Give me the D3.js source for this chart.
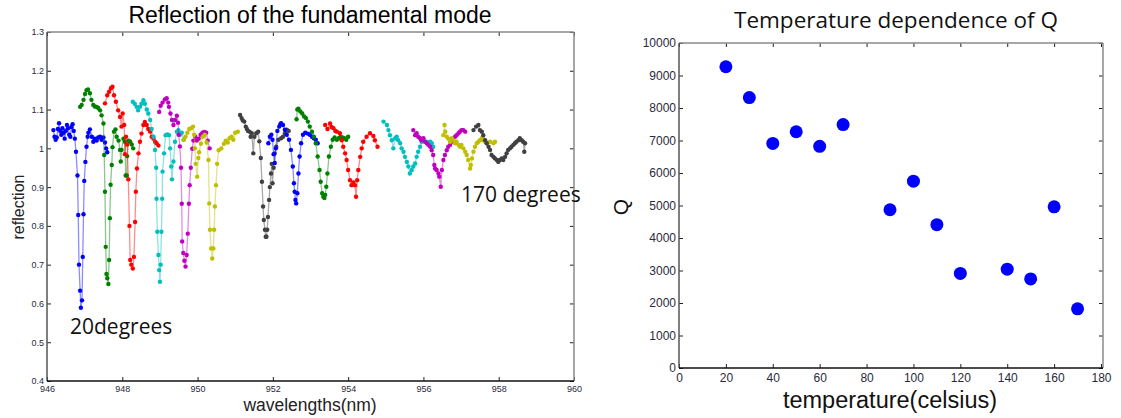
<!DOCTYPE html>
<html>
<head>
<meta charset="utf-8">
<script src="https://cdn.jsdelivr.net/npm/d3@7"></script>
<style>
  body { margin: 0; background: #fff; }
  svg { display: block; }
  .tick text { font-family: Arial, "Liberation Sans", sans-serif; fill: #2a2a3a; }
  .domain { display: none; }
</style>
</head>
<body>
<svg id="chart" width="1121" height="418"></svg>
<script>
// ---- data: left panel, reflection spectra (wavelength nm, reflection) ----
var spec20 = [[946.17,1.047],[946.20,1.030],[946.23,1.022],[946.26,1.028],[946.29,1.050],[946.32,1.065],[946.35,1.045],[946.38,1.035],[946.41,1.052],[946.44,1.040],[946.47,1.025],[946.50,1.045],[946.53,1.060],[946.56,1.052],[946.59,1.035],[946.62,1.030],[946.65,1.055],[946.68,1.062],[946.71,1.045],[946.74,1.025],[946.77,0.991],[946.81,0.930],[946.83,0.828],[946.85,0.700],[946.88,0.633],[946.90,0.589],[946.93,0.608],[946.95,0.720],[946.97,0.830],[946.99,0.916],[947.02,0.965],[947.05,1.004],[947.08,1.030],[947.10,1.040],[947.14,1.049],[947.19,1.030],[947.23,1.017],[947.27,1.025],[947.32,1.020],[947.36,1.028],[947.41,1.030],[947.45,1.022],[947.50,1.028],[947.54,1.015],[947.57,1.000],[947.60,0.990]];
var spec30 = [[946.88,1.107],[946.92,1.112],[946.97,1.125],[947.01,1.140],[947.05,1.150],[947.09,1.152],[947.14,1.142],[947.18,1.125],[947.23,1.112],[947.27,1.108],[947.32,1.107],[947.36,1.104],[947.41,1.098],[947.45,1.085],[947.50,1.064],[947.52,0.983],[947.54,0.888],[947.56,0.746],[947.58,0.676],[947.60,0.665],[947.63,0.650],[947.65,0.712],[947.67,0.820],[947.69,0.906],[947.72,0.957],[947.74,1.003],[947.78,1.043],[947.82,1.049],[947.85,1.030],[947.90,1.020],[947.94,0.996],[947.96,0.966],[947.98,0.996],[948.03,1.025],[948.07,1.017],[948.09,0.930],[948.12,0.930],[948.13,0.980],[948.17,1.020],[948.21,1.017],[948.25,1.010],[948.29,1.000]];
var spec40 = [[947.54,1.116],[947.60,1.137],[947.65,1.146],[947.70,1.155],[947.74,1.159],[947.78,1.137],[947.83,1.120],[947.89,1.098],[947.94,1.081],[947.98,1.056],[948.01,1.090],[948.05,1.060],[948.07,0.985],[948.10,1.030],[948.13,1.010],[948.16,0.920],[948.19,0.800],[948.21,0.712],[948.24,0.700],[948.28,0.690],[948.31,0.720],[948.34,0.810],[948.36,0.888],[948.39,0.948],[948.43,0.987],[948.47,1.017],[948.51,1.038],[948.56,1.060],[948.60,1.068],[948.65,1.060],[948.69,1.050],[948.74,1.043],[948.78,1.030],[948.83,1.025],[948.87,1.017],[948.91,1.013],[948.96,1.007]];
var spec50 = [[948.28,1.120],[948.33,1.115],[948.38,1.107],[948.42,1.098],[948.47,1.107],[948.51,1.115],[948.56,1.124],[948.60,1.115],[948.65,1.100],[948.69,1.090],[948.74,1.073],[948.78,1.050],[948.83,1.030],[948.87,0.996],[948.90,0.950],[948.91,0.870],[948.93,0.785],[948.96,0.725],[948.98,0.686],[949.00,0.656],[949.02,0.700],[949.04,0.785],[949.06,0.870],[949.07,0.940],[949.11,0.987],[949.15,1.034],[949.20,1.036],[949.24,1.034],[949.27,1.000],[949.30,0.953],[949.32,0.920],[949.36,0.966],[949.40,1.017],[949.45,1.043],[949.49,1.047],[949.53,1.035],[949.58,1.040],[949.63,1.022]];
var spec60 = [[948.98,1.094],[949.02,1.110],[949.07,1.118],[949.13,1.126],[949.18,1.129],[949.22,1.118],[949.24,1.107],[949.28,1.090],[949.32,1.073],[949.36,1.060],[949.40,1.073],[949.45,1.084],[949.48,1.066],[949.50,1.035],[949.53,1.005],[949.56,0.950],[949.58,0.857],[949.59,0.760],[949.62,0.730],[949.65,0.710],[949.68,0.695],[949.71,0.725],[949.74,0.780],[949.77,0.857],[949.79,0.905],[949.82,0.950],[949.86,0.999],[949.89,1.020],[949.94,1.030],[949.98,1.020],[950.03,1.025],[950.08,1.035],[950.13,1.040],[950.18,1.042],[950.23,1.040],[950.27,1.020],[950.32,1.000]];
var spec70 = [[949.63,1.022],[949.68,1.030],[949.73,1.040],[949.78,1.050],[949.83,1.052],[949.88,1.056],[949.91,1.035],[949.93,1.000],[949.95,0.960],[949.99,0.927],[950.02,0.975],[950.04,0.990],[950.09,1.012],[950.14,1.030],[950.19,1.035],[950.24,1.015],[950.29,0.970],[950.31,0.858],[950.33,0.790],[950.36,0.742],[950.39,0.716],[950.42,0.742],[950.44,0.790],[950.46,0.850],[950.49,0.905],[950.52,0.960],[950.56,0.995],[950.63,1.000],[950.70,1.012],[950.75,1.020],[950.80,1.015],[950.85,1.026],[950.90,1.030],[950.95,1.022],[951.00,1.040],[951.07,1.043]];
var spec90 = [[951.13,1.086],[951.17,1.078],[951.20,1.072],[951.24,1.069],[951.28,1.056],[951.31,1.050],[951.34,1.045],[951.38,1.043],[951.41,1.030],[951.44,1.039],[951.48,0.987],[951.51,1.030],[951.56,1.039],[951.61,1.043],[951.64,1.018],[951.68,0.975],[951.71,0.914],[951.74,0.850],[951.76,0.815],[951.79,0.790],[951.81,0.772],[951.83,0.772],[951.85,0.790],[951.87,0.823],[951.90,0.867],[951.92,0.900],[951.95,0.935],[951.97,0.960],[951.99,0.910],[952.02,0.950],[952.05,0.987],[952.09,1.004],[952.15,1.022],[952.22,1.026],[952.27,1.030],[952.32,1.039],[952.37,1.048],[952.42,1.045]];
var spec100 = [[951.88,1.013],[951.92,1.030],[951.96,1.035],[951.99,1.022],[952.02,0.985],[952.05,0.962],[952.08,1.000],[952.12,1.045],[952.17,1.056],[952.20,1.062],[952.22,1.065],[952.27,1.060],[952.32,1.048],[952.37,1.035],[952.43,1.022],[952.48,0.996],[952.53,0.953],[952.56,0.910],[952.58,0.888],[952.60,0.867],[952.62,0.858],[952.65,0.884],[952.68,0.935],[952.71,0.979],[952.75,1.013],[952.80,1.035],[952.86,1.040],[952.93,1.038],[952.98,1.035],[953.04,1.030],[953.09,1.026],[953.14,1.022],[953.19,1.013]];
var spec110 = [[952.63,1.075],[952.65,1.100],[952.68,1.102],[952.73,1.095],[952.78,1.090],[952.83,1.082],[952.88,1.078],[952.93,1.069],[952.98,1.056],[953.04,1.043],[953.09,1.030],[953.14,1.013],[953.19,0.979],[953.24,0.944],[953.27,0.914],[953.31,0.884],[953.34,0.875],[953.37,0.872],[953.39,0.880],[953.42,0.901],[953.45,0.935],[953.49,0.979],[953.54,1.004],[953.59,1.022],[953.64,1.028],[953.70,1.022],[953.75,1.026],[953.80,1.030],[953.85,1.028],[953.90,1.026],[953.95,1.022],[954.00,1.030]];
var spec120 = [[953.39,1.060],[953.45,1.050],[953.52,1.064],[953.56,1.055],[953.61,1.052],[953.66,1.045],[953.70,1.043],[953.78,1.039],[953.83,1.021],[953.87,1.004],[953.92,0.987],[953.96,0.970],[954.00,0.944],[954.05,0.918],[954.09,0.905],[954.14,0.912],[954.18,0.905],[954.21,0.875],[954.24,0.918],[954.27,0.944],[954.32,0.978],[954.36,1.000],[954.40,1.017],[954.49,1.030],[954.58,1.039],[954.67,1.032],[954.71,1.021],[954.78,1.004]];
var spec140 = [[954.94,1.069],[955.03,1.060],[955.07,1.047],[955.11,1.034],[955.16,1.021],[955.20,1.000],[955.25,1.026],[955.29,1.030],[955.33,1.021],[955.38,1.013],[955.42,1.000],[955.47,0.991],[955.51,0.978],[955.56,0.965],[955.60,0.953],[955.64,0.935],[955.69,0.944],[955.73,0.953],[955.78,0.961],[955.82,0.978],[955.86,0.991],[955.91,1.004],[955.95,1.017],[956.00,1.021],[956.09,1.017],[956.18,1.017],[956.22,1.013],[956.26,1.004]];
var spec150 = [[955.73,1.047],[955.78,1.034],[955.82,1.039],[955.86,1.030],[955.91,1.026],[955.95,1.021],[956.00,1.026],[956.04,1.017],[956.09,1.013],[956.13,1.009],[956.18,1.004],[956.22,0.995],[956.26,0.983],[956.29,0.957],[956.31,0.948],[956.35,0.944],[956.40,0.935],[956.42,0.927],[956.46,0.901],[956.49,0.944],[956.53,0.970],[956.57,0.983],[956.62,0.995],[956.66,1.004],[956.71,1.009],[956.75,1.017],[956.79,1.021],[956.84,1.030],[956.88,1.034],[956.93,1.039],[956.97,1.043],[957.01,1.047],[957.06,1.047],[957.11,1.043]];
var spec160 = [[956.53,1.034],[956.56,1.060],[956.58,1.043],[956.62,1.030],[956.66,1.025],[956.71,1.017],[956.75,1.026],[956.79,1.021],[956.84,1.013],[956.88,1.017],[956.93,1.009],[956.97,1.004],[957.01,1.009],[957.06,1.000],[957.11,0.991],[957.15,0.983],[957.19,0.970],[957.24,0.948],[957.26,0.957],[957.29,0.974],[957.33,0.991],[957.37,1.004],[957.42,1.013],[957.46,1.017],[957.50,1.021],[957.55,1.026],[957.59,1.021],[957.64,1.017],[957.68,1.013],[957.77,1.017],[957.86,1.013],[957.90,1.017]];
var spec170 = [[957.33,1.047],[957.40,1.056],[957.46,1.060],[957.50,1.047],[957.55,1.043],[957.59,1.034],[957.64,1.021],[957.68,1.013],[957.73,1.004],[957.77,0.996],[957.81,0.983],[957.86,0.978],[957.90,0.974],[957.95,0.970],[957.99,0.965],[958.03,0.970],[958.08,0.974],[958.12,0.970],[958.17,0.978],[958.21,0.987],[958.25,0.996],[958.30,1.000],[958.34,1.004],[958.39,1.009],[958.43,1.013],[958.47,1.017],[958.52,1.021],[958.56,1.026],[958.61,1.021],[958.65,1.017],[958.68,0.991],[958.70,1.013]];

var spectra = [spec20, spec30, spec40, spec50, spec60, spec70, spec90,
               spec100, spec110, spec120, spec140, spec150, spec160, spec170];
// matlab default colour order b g r c m y k
var specColors = ['#0000ff', '#008000', '#ff0000', '#00bfbf', '#bf00bf', '#bfbf00', '#404040'];

var wlTicks = [946, 948, 950, 952, 954, 956, 958, 960];
var reflTicks = [0.4, 0.5, 0.6, 0.7, 0.8, 0.9, 1.0, 1.1, 1.2, 1.3];

// ---- data: right panel, Q vs temperature ----
var temps = [20, 30, 40, 50, 60, 70, 90, 100, 110, 120, 140, 150, 160, 170];
var qValues = [9270, 8320, 6910, 7270, 6820, 7490, 4870, 5750, 4410, 2910, 3040, 2740, 4960, 1820];
var tempTicks = [0, 20, 40, 60, 80, 100, 120, 140, 160, 180];
var qTicks = [0, 1000, 2000, 3000, 4000, 5000, 6000, 7000, 8000, 9000, 10000];

var svg = d3.select('#chart');

// helper: matlab-ish boxed axes with inward ticks
function boxAxes(g, x, y, w, h, xt, yt, xfmt, yfmt, fs) {
  g.append('g').attr('transform', 'translate(0,' + h + ')')
    .call(d3.axisBottom(x).tickValues(xt).tickSize(-4).tickPadding(5).tickFormat(xfmt))
    .selectAll('text').style('font-size', fs + 'px');
  g.append('g')
    .call(d3.axisLeft(y).tickValues(yt).tickSize(-4).tickPadding(3).tickFormat(yfmt))
    .selectAll('text').style('font-size', fs + 'px');
  g.append('g').call(d3.axisTop(x).tickValues(xt).tickSize(-4).tickFormat(''));
  g.append('g').attr('transform', 'translate(' + w + ',0)')
    .call(d3.axisRight(y).tickValues(yt).tickSize(-4).tickFormat(''));
  g.selectAll('.tick line').attr('stroke', '#222');
  // frame: top/right lighter like the screenshot
  g.append('line').attr('x1', 0).attr('x2', w).attr('y1', 0).attr('y2', 0).attr('stroke', '#8a8a8a').attr('stroke-width', 1.5);
  g.append('line').attr('x1', w).attr('x2', w).attr('y1', 0).attr('y2', h).attr('stroke', '#8a8a8a').attr('stroke-width', 1.5);
  g.append('line').attr('x1', 0).attr('x2', 0).attr('y1', 0).attr('y2', h).attr('stroke', '#555').attr('stroke-width', 1.5);
  g.append('line').attr('x1', 0).attr('x2', w).attr('y1', h).attr('y2', h).attr('stroke', '#111').attr('stroke-width', 1.5);
}

// ---------------- left panel ----------------
var L = {left: 47, top: 32, width: 527, height: 349};
var gl = svg.append('g').attr('transform', 'translate(' + L.left + ',' + L.top + ')');
var xL = d3.scaleLinear().domain([946, 960]).range([0, L.width]);
var yL = d3.scaleLinear().domain([0.4, 1.3]).range([L.height, 0]);

boxAxes(gl, xL, yL, L.width, L.height, wlTicks, reflTicks,
  d3.format('d'), function(d) { return String(+d.toFixed(1)); }, 9);

var line = d3.line().x(function(d) { return xL(d[0]); }).y(function(d) { return yL(d[1]); });

spectra.forEach(function(s, i) {
  var c = specColors[i % specColors.length];
  gl.append('path').datum(s)
    .attr('d', line)
    .attr('fill', 'none')
    .attr('stroke', c)
    .attr('stroke-opacity', 0.45)
    .attr('stroke-width', 1.3);
  gl.selectAll('.dot' + i).data(s).enter()
    .append('circle')
    .attr('cx', function(d) { return xL(d[0]); })
    .attr('cy', function(d) { return yL(d[1]); })
    .attr('r', 2.2)
    .attr('fill', c);
});

svg.append('text').attr('x', 310).attr('y', 23).attr('text-anchor', 'middle')
  .style('font-family', 'Arial, "Liberation Sans", sans-serif').style('font-size', '23px')
  .text('Reflection of the fundamental mode');
svg.append('text').attr('x', 310).attr('y', 411).attr('text-anchor', 'middle')
  .style('font-family', 'Arial, "Liberation Sans", sans-serif').style('font-size', '17.5px').attr('fill', '#222')
  .text('wavelengths(nm)');
svg.append('text').attr('transform', 'translate(24,207) rotate(-90)').attr('text-anchor', 'middle')
  .style('font-family', 'Arial, "Liberation Sans", sans-serif').style('font-size', '16px').attr('fill', '#222')
  .text('reflection');
svg.append('text').attr('x', 70).attr('y', 334)
  .style('font-family', '"Open Sans", sans-serif').style('font-size', '21px').attr('fill', '#111')
  .text('20degrees');
svg.append('text').attr('x', 461).attr('y', 202)
  .style('font-family', '"Open Sans", sans-serif').style('font-size', '21px').attr('fill', '#111')
  .text('170 degrees');

// ---------------- right panel ----------------
var R = {left: 679, top: 43, width: 424, height: 325};
var gr = svg.append('g').attr('transform', 'translate(' + R.left + ',' + R.top + ')');
var xR = d3.scaleLinear().domain([0, 180]).range([0, R.width - 2]);
var yR = d3.scaleLinear().domain([0, 10000]).range([R.height, 0]);

boxAxes(gr, xR, yR, R.width, R.height, tempTicks, qTicks, d3.format('d'), d3.format('d'), 12);

gr.selectAll('.qdot').data(temps).enter()
  .append('circle')
  .attr('cx', function(d) { return xR(d); })
  .attr('cy', function(d, i) { return yR(qValues[i]); })
  .attr('r', 6.5)
  .attr('fill', '#0000ff');

svg.append('text').attr('x', 896).attr('y', 28).attr('text-anchor', 'middle')
  .style('font-family', '"Open Sans", sans-serif').style('font-size', '22.5px').attr('fill', '#111')
  .text('Temperature dependence of Q');
svg.append('text').attr('x', 890).attr('y', 408).attr('text-anchor', 'middle')
  .style('font-family', 'Arial, "Liberation Sans", sans-serif').style('font-size', '23.5px').attr('fill', '#111')
  .text('temperature(celsius)');
svg.append('text').attr('transform', 'translate(628,207) rotate(-90)').attr('text-anchor', 'middle')
  .style('font-family', 'Arial, "Liberation Sans", sans-serif').style('font-size', '21px').attr('fill', '#111')
  .text('Q');
</script>
</body>
</html>
